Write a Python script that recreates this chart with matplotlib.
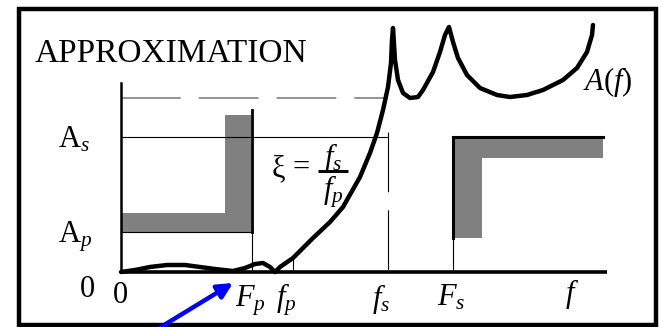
import matplotlib
matplotlib.use("Agg")
import matplotlib.pyplot as plt
from matplotlib.patches import Rectangle

plt.rcParams['font.family'] = ['Liberation Serif', 'DejaVu Serif']
plt.rcParams['mathtext.fontset'] = 'custom'
plt.rcParams['mathtext.rm'] = 'Liberation Serif'
plt.rcParams['mathtext.it'] = 'Liberation Serif:italic'
plt.rcParams['mathtext.bf'] = 'Liberation Serif:bold'
plt.rcParams['lines.scale_dashes'] = False

# specification levels (attenuation) and band edges (frequency)
A_p, A_s, A_top = 40, 135, 174
F_p, f_p, f_s, F_s, f_end = 131, 172, 267, 332, 486
axis_top = 189
band = 19  # thickness of the shaded tolerance bands

# approximating attenuation curve A(f)
curve_f = [0, 14, 29, 46, 64, 79, 94, 112, 124, 134, 142, 149, 154,
           159, 172, 192, 209, 222, 239, 249, 256, 262, 267, 270, 271, 272,
           274, 277, 282, 289, 297, 302, 312, 319, 324, 328,
           332, 337, 346, 359, 376, 389, 406, 422, 442, 456, 466, 471, 472]
curve_A = [0, 2, 5, 7, 7, 5, 3, 1, 4, 8, 9, 5, 0,
           5, 14, 34, 50, 65, 95, 119, 139, 162, 185, 209, 232, 244,
           212, 192, 179, 174, 175, 182, 200, 220, 237, 245,
           230, 214, 197, 184, 177, 175, 177, 182, 192, 204, 220, 237, 247]

fig = plt.figure(figsize=(6.63, 3.27), dpi=100)
ax = fig.add_axes([0, 0, 1, 1])
ax.set_xlim(-121, 542)
ax.set_ylim(-55, 272)
ax.axis('off')

gray = '#808080'
dash = (0, (43, 13))

# outer frame
ax.add_patch(Rectangle((-102, -53), 637, 316, fill=False, lw=3.2,
                       edgecolor='black', clip_on=False))

# passband tolerance (L-shaped gray band)
ax.add_patch(Rectangle((0, A_p), F_p - 1, band, color=gray, lw=0))
ax.add_patch(Rectangle((F_p - 1 - 26, A_p), 26, 157 - A_p, color=gray, lw=0))
ax.plot([0, F_p], [A_p, A_p], color='black', lw=0.8)
ax.plot([F_p, F_p], [0, A_p], color='black', lw=0.8)
ax.plot([F_p, F_p], [A_p, 162], color='black', lw=2.0)

# stopband tolerance
ax.add_patch(Rectangle((F_s, A_s - band - 2), f_end - 4 - F_s, band + 2, color=gray, lw=0))
ax.add_patch(Rectangle((F_s, 34), 29, A_s - 34, color=gray, lw=0))
ax.plot([F_s, F_s, f_end - 4], [34, A_s, A_s], color='black', lw=2.2,
        solid_joinstyle='miter')
ax.plot([F_s, F_s], [0, 34], color='black', lw=0.8)

# reference lines
ax.plot([0, f_s], [A_s, A_s], color='black', lw=0.8)
ax.plot([0, f_s], [A_top, A_top], color=gray, lw=1.2, linestyle=dash)
ax.plot([f_s, f_s], [A_s + 5, 0], color='black', lw=0.8, linestyle=dash)
ax.plot([f_p, f_p], [0, 14], color='black', lw=0.8)

# axes
ax.plot([0, 0], [0, axis_top], color='black', lw=1.8)
ax.plot([0, f_end], [0, 0], color='black', lw=2.6, solid_capstyle='butt')

# A(f)
ax.plot(curve_f, curve_A, color='black', lw=3.2, solid_joinstyle='round',
        solid_capstyle='round')

# labels
fs = 22
ax.text(-86, 210, 'APPROXIMATION', fontsize=24, va='baseline')
ax.text(-63, 124, r'$\mathrm{A}_s$', fontsize=fs, va='baseline')
ax.text(-63, 29, r'$\mathrm{A}_p$', fontsize=fs, va='baseline')
ax.text(-41, -25, '0', fontsize=fs, va='baseline')
ax.text(-1, -31, '0', fontsize=fs, va='baseline', ha='center')
ax.text(114, -35, r'$F_p$', fontsize=fs, va='baseline')
ax.text(155, -35, r'$f_p$', fontsize=fs, va='baseline')
ax.text(251, -35, r'$f_s$', fontsize=fs, va='baseline')
ax.text(316, -33, r'$F_s$', fontsize=fs, va='baseline')
ax.text(444, -30, r'$f$', fontsize=fs, va='baseline')
ax.text(462, 182, r'$A(f)$', fontsize=fs, va='baseline')

# selectivity ratio xi = f_s / f_p
ax.text(151, 96, 'ξ', fontsize=fs, va='baseline')
ax.text(171, 96, '=', fontsize=fs, va='baseline')
ax.plot([197, 227], [101, 101], color='black', lw=2.2, solid_capstyle='butt')
ax.text(212, 106, r'$f_s$', fontsize=fs, va='baseline', ha='center')
ax.text(212, 73, r'$f_p$', fontsize=fs, va='baseline', ha='center')

# pointer to F_p
ax.annotate('', xy=(112, -11), xytext=(30, -61),
            arrowprops=dict(arrowstyle='-|>,head_length=0.9,head_width=0.45',
                            color='blue', lw=3.2, shrinkA=0, shrinkB=0))

fig.savefig('out.png', dpi=100)
